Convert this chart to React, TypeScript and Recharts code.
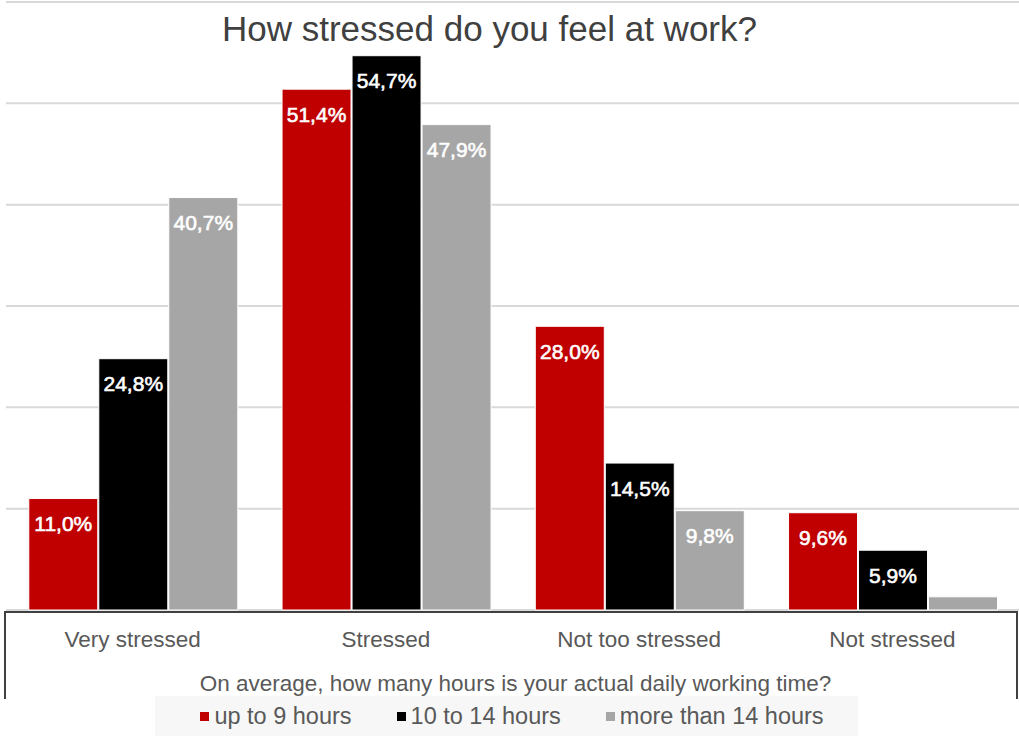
import React from 'react';
import { BarChart, Bar, XAxis, YAxis, CartesianGrid, Legend, LabelList } from 'recharts';

const categories = ['Very stressed', 'Stressed', 'Not too stressed', 'Not stressed'];
const upTo9 = [11.0, 51.4, 28.0, 9.6];
const from10to14 = [24.8, 54.7, 14.5, 5.9];
const moreThan14 = [40.7, 47.9, 9.8, 1.3];
const yTicks = [0, 10, 20, 30, 40, 50, 60];

const seriesNames = ['up to 9 hours', '10 to 14 hours', 'more than 14 hours'];
const seriesColors = ['#c00000', '#000000', '#a6a6a6'];

const data = categories.map((c, i) => ({
  name: c,
  a: upTo9[i],
  b: from10to14[i],
  c: moreThan14[i],
}));

const FONT = '"Liberation Sans", Arial, sans-serif';

const fmt = (v: number) => v.toFixed(1).replace('.', ',') + '%';

const renderLabel = (props: any) => {
  const { x, y, width, value } = props;
  if (value < 3) return null;
  return (
    <text
      x={x + width / 2}
      y={y + 25}
      textAnchor="middle"
      dominantBaseline="central"
      fill="#ffffff"
      stroke="#ffffff"
      strokeWidth={0.6}
      fontFamily={FONT}
      fontSize={21}
    >
      {fmt(value)}
    </text>
  );
};

const LegendContent = () => (
  <div style={{ fontFamily: FONT, color: '#595959', textAlign: 'center', width: 1019 }}>
    <div style={{ fontSize: 22.5, lineHeight: '24px', marginLeft: 12, paddingTop: 2 }}>
      On average, how many hours is your actual daily working time?
    </div>
    <div
      style={{
        display: 'inline-flex',
        alignItems: 'center',
        background: '#f7f7f7',
        height: 40,
        padding: '0 34px 0 45px',
        marginLeft: -6,
        fontSize: 23.5,
      }}
    >
      {seriesNames.map((n, i) => (
        <span key={n} style={{ display: 'inline-flex', alignItems: 'center', marginRight: i < 2 ? 45 : 0 }}>
          <span style={{ width: 9, height: 9, background: seriesColors[i], display: 'inline-block', marginRight: 5 }} />
          {n}
        </span>
      ))}
    </div>
  </div>
);

export default function App() {
  return (
    <div style={{ position: 'absolute', left: 0, top: 0, width: 1019, height: 736, background: '#fff' }}>
      <BarChart
        width={1019}
        height={736}
        data={data}
        margin={{ top: 2, right: 0, left: 6, bottom: 0 }}
        barCategoryGap="9%"
        barGap={1}
      >
        <CartesianGrid vertical={false} stroke="#d9d9d9" strokeWidth={2} />
        <YAxis hide domain={[0, 60]} ticks={yTicks} />
        <XAxis
          dataKey="name"
          axisLine={false}
          tickLine={false}
          height={60}
          tickMargin={15}
          tick={{ fill: '#595959', fontSize: 22.5, fontFamily: FONT }}
          interval={0}
        />
        <Legend
          verticalAlign="bottom"
          content={<LegendContent />}
          wrapperStyle={{ bottom: 0, left: 0, width: 1019 }}
        />
        <Bar dataKey="a" name={seriesNames[0]} fill={seriesColors[0]} stroke="#ffffff" strokeWidth={1} isAnimationActive={false}>
          <LabelList dataKey="a" content={renderLabel} />
        </Bar>
        <Bar dataKey="b" name={seriesNames[1]} fill={seriesColors[1]} stroke="#ffffff" strokeWidth={1} isAnimationActive={false}>
          <LabelList dataKey="b" content={renderLabel} />
        </Bar>
        <Bar dataKey="c" name={seriesNames[2]} fill={seriesColors[2]} stroke="#ffffff" strokeWidth={1} isAnimationActive={false}>
          <LabelList dataKey="c" content={renderLabel} />
        </Bar>
      </BarChart>
      <div
        style={{
          position: 'absolute',
          left: 4,
          top: 611,
          width: 1014,
          height: 88,
          borderLeft: '2px solid #404040',
          borderTop: '2px solid #404040',
          borderRight: '2px solid #404040',
          boxSizing: 'border-box',
          pointerEvents: 'none',
        }}
      />
      <div
        style={{
          position: 'absolute',
          left: 0,
          top: 7,
          width: 979,
          textAlign: 'center',
          fontFamily: FONT,
          fontSize: 35,
          color: '#404040',
          lineHeight: '44px',
        }}
      >
        How stressed do you feel at work?
      </div>
    </div>
  );
}
